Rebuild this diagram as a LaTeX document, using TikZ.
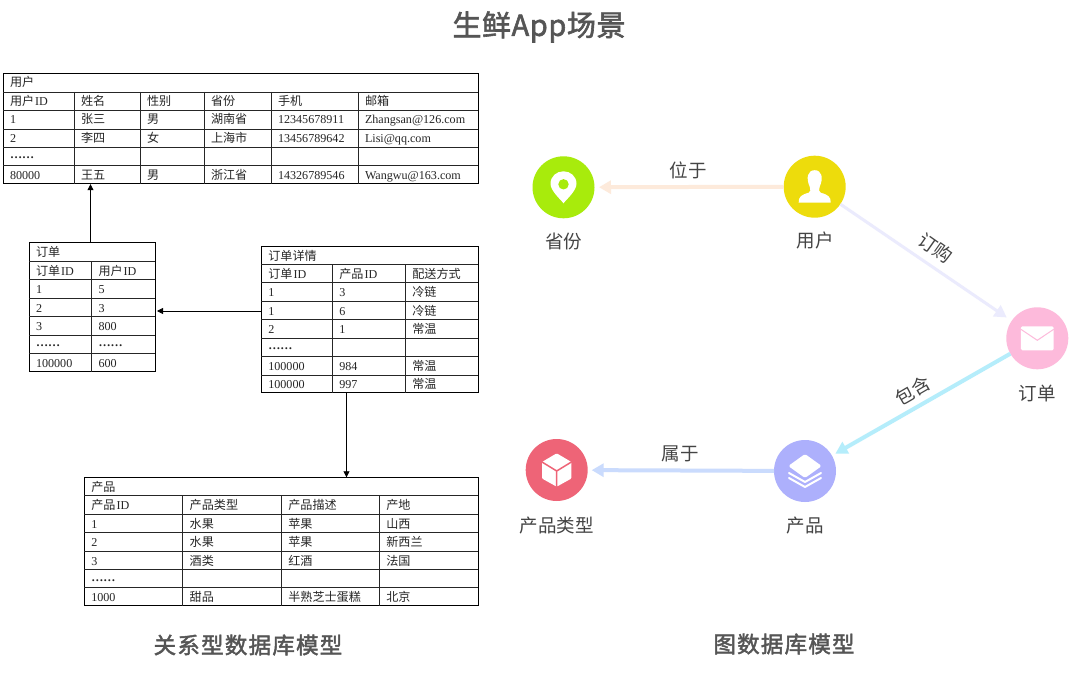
\documentclass[tikz,border=0pt]{standalone}
\usepackage{fontspec}
\setmainfont{Liberation Serif}
\newfontfamily\cjkfont{Noto Sans CJK SC}
\newfontfamily\cjkspaced[LetterSpace=5.5,FakeBold=2]{Noto Sans CJK SC}
\newfontfamily\cjktitle[LetterSpace=2,FakeBold=2]{Noto Sans CJK SC}
\newcommand\zh[1]{{\cjkfont #1}}
\newcommand\idtxt{\hspace{1pt}ID}
\usetikzlibrary{arrows.meta,fit}
\definecolor{ttl}{HTML}{555555}
\definecolor{lab}{HTML}{444444}
\definecolor{cgreen}{HTML}{A8EB0C}
\definecolor{cyellow}{HTML}{EDDC0C}
\definecolor{cpink}{HTML}{FDBADB}
\definecolor{cviolet}{HTML}{ADB0FC}
\definecolor{cred}{HTML}{EE6477}
\definecolor{lpeach}{HTML}{FDEADB}
\definecolor{llav}{HTML}{EBEBFD}
\definecolor{lcyan}{HTML}{B5EDFB}
\definecolor{lblue}{HTML}{CADBFD}
\newcount\cellno
\tikzset{
  tblframe/.style={draw=black,line width=0.9pt,inner sep=0pt,outer sep=0pt},
  tblline/.style={draw=black!85,line width=0.9pt},
  cell/.style={anchor=base west,inner sep=0pt,font=\fontsize{12.1}{13}\selectfont,text=black!85},
  fk/.style={draw=black,line width=0.8pt,-{Triangle[length=6pt,width=6pt]}},
  gnode/.style={circle,minimum size=62pt,inner sep=0pt,outer sep=0pt},
  glabel/.style={inner sep=0pt,font=\fontsize{18.5}{20}\selectfont\cjkfont,text=lab},
  elabel/.style={inner sep=0pt,font=\fontsize{18.5}{20}\selectfont\cjkfont,text=lab},
  gedge/.style={line width=#1,-{Triangle[length=12pt,width=13pt]}},
  heading/.style={inner sep=0pt,text=ttl}
}
% name, left, right, top, bottom, inner column xs, inner row ys, second row top
\newcommand\tablegrid[8]{%
  \node[tblframe,fit={(#2,#4)(#3,#5)}] (#1) {};
  \foreach \yy in {#7} {\draw[tblline] (#2,\yy) -- (#3,\yy);}
  \foreach \xx in {#6} {\draw[tblline] (\xx,#8) -- (\xx,#5);}
}
\newcommand\rowcells[2]{%
  \foreach \xx/\tt in {#2} {%
    \global\advance\cellno by 1
    \node[cell] (cell\the\cellno) at (\xx+6.8,#1) {\tt};
  }%
}
\begin{document}
\begin{tikzpicture}[x=1pt,y=-1pt]
\useasboundingbox (0,0) rectangle (1080,682);
\fill[white] (0,0) rectangle (1080,682);

\node[heading,font=\fontsize{29}{31}\selectfont\cjktitle] (title) at (539,27) {生鲜App场景};
\node[heading,font=\fontsize{22.5}{24}\selectfont\cjkspaced] (relcap) at (248,645) {关系型数据库模型};
\node[heading,font=\fontsize{22.5}{24}\selectfont\cjkspaced] (graphcap) at (784,644) {图数据库模型};

% ---- user table
\tablegrid{user}{3}{478}{73}{183.7}{74,140,204,271,358}{92,110,129,147.7,165.3}{92}
\rowcells{87}{3/\zh{用户}}
\rowcells{105.3}{3/\zh{用户}\idtxt,74/\zh{姓名},140/\zh{性别},204/\zh{省份},271/\zh{手机},358/\zh{邮箱}}
\rowcells{124}{3/1,74/\zh{张三},140/\zh{男},204/\zh{湖南省},271/12345678911,358/Zhangsan@126.com}
\rowcells{142.8}{3/2,74/\zh{李四},140/\zh{女},204/\zh{上海市},271/13456789642,358/Lisi@qq.com}
\rowcells{158.3}{3/\textbf{……}}
\rowcells{179.2}{3/80000,74/\zh{王五},140/\zh{男},204/\zh{浙江省},271/14326789546,358/Wangwu@163.com}

% ---- order table
\tablegrid{order}{29}{155}{242.7}{371.7}{91.5}{261.3,279.5,298.5,316.7,335.3,353.3}{261.3}
\rowcells{257}{29/\zh{订单}}
\rowcells{275}{29/\zh{订单}\idtxt,91.5/\zh{用户}\idtxt}
\rowcells{293.7}{29/1,91.5/5}
\rowcells{312.2}{29/2,91.5/3}
\rowcells{330.7}{29/3,91.5/800}
\rowcells{346.3}{29/\textbf{……},91.5/\textbf{……}}
\rowcells{367.2}{29/100000,91.5/600}

% ---- order detail table
\tablegrid{detail}{261.3}{478}{246}{392.7}{332.3,405.3}{264.3,282.3,301.3,319.7,338,356.3,375}{264.3}
\rowcells{260}{261.3/\zh{订单详情}}
\rowcells{278}{261.3/\zh{订单}\idtxt,332.3/\zh{产品}\idtxt,405.3/\zh{配送方式}}
\rowcells{296.7}{261.3/1,332.3/3,405.3/\zh{冷链}}
\rowcells{315.2}{261.3/1,332.3/6,405.3/\zh{冷链}}
\rowcells{333.7}{261.3/2,332.3/1,405.3/\zh{常温}}
\rowcells{349.2}{261.3/\textbf{……}}
\rowcells{370.2}{261.3/100000,332.3/984,405.3/\zh{常温}}
\rowcells{388.7}{261.3/100000,332.3/997,405.3/\zh{常温}}

% ---- product table
\tablegrid{product}{84.3}{478.3}{477.3}{605.7}{182.7,281.3,379.3}{495.3,514,532.7,551,569.3,587.3}{495.3}
\rowcells{491}{84.3/\zh{产品}}
\rowcells{509}{84.3/\zh{产品}\idtxt,182.7/\zh{产品类型},281.3/\zh{产品描述},379.3/\zh{产地}}
\rowcells{528.2}{84.3/1,182.7/\zh{水果},281.3/\zh{苹果},379.3/\zh{山西}}
\rowcells{546.7}{84.3/2,182.7/\zh{水果},281.3/\zh{苹果},379.3/\zh{新西兰}}
\rowcells{565.2}{84.3/3,182.7/\zh{酒类},281.3/\zh{红酒},379.3/\zh{法国}}
\rowcells{581}{84.3/\textbf{……}}
\rowcells{601.2}{84.3/1000,182.7/\zh{甜品},281.3/\zh{半熟芝士蛋糕},379.3/\zh{北京}}

% ---- foreign key connectors
\coordinate (fkA) at (90.5,220);
\coordinate (fkB) at (200,311);
\coordinate (fkC) at (346.5,430);
\draw[fk,shorten >=0.5pt] (fkA |- order.north) -- (fkA |- user.south);
\draw[fk,shorten >=2pt] (detail.west |- fkB) -- (order.east |- fkB);
\draw[fk] (fkC |- detail.south) -- (fkC |- product.north);

% ---- graph nodes
\node[gnode,fill=cgreen] (gprov) at (563.5,187.3) {};
\node[gnode,fill=cyellow] (guser) at (814.7,186.7) {};
\node[gnode,fill=cpink] (gorder) at (1037.3,338.3) {};
\node[gnode,fill=cviolet] (gprod) at (805,471) {};
\node[gnode,fill=cred] (gtype) at (556.7,470) {};

% ---- graph edges
\draw[gedge=4pt,lpeach,shorten >=4.5pt] (guser) -- (gprov);
\draw[gedge=3pt,llav,shorten >=6pt] (guser) -- (gorder);
\draw[gedge=4pt,lcyan,shorten >=4pt] (gorder) -- (gprod);
\draw[gedge=4pt,lblue,shorten >=4pt] (gprod) -- (gtype);

% ---- icons
\begin{scope}[shift={(gprov)}]
  \fill[white] (0,16) .. controls (-3,12) and (-13,3.5) .. (-13,-3.5)
     .. controls (-13,-11) and (-7,-16) .. (0,-16)
     .. controls (7,-16) and (13,-11) .. (13,-3.5)
     .. controls (13,3.5) and (3,12) .. (0,16) -- cycle;
  \fill[cgreen] (0,-3) circle[radius=5.2pt];
\end{scope}
\begin{scope}[shift={(guser)}]
  \fill[white] (-16,16) .. controls (-16.5,10) and (-13,8) .. (-6,6)
     .. controls (-4,5) and (-4,3) .. (-5,0)
     .. controls (-9,-9) and (-7,-16.5) .. (0,-16.5)
     .. controls (7,-16.5) and (9,-9) .. (5,0)
     .. controls (4,3) and (4,5) .. (6,6)
     .. controls (13,8) and (16.5,10) .. (16,16) -- cycle;
\end{scope}
\begin{scope}[shift={(gorder)}]
  \fill[white,rounded corners=1.5pt] (-16.4,-12) rectangle (16.4,12);
  \draw[cpink,line width=1pt] (-16.4,-9) -- (0,2) -- (16.4,-9);
\end{scope}
\begin{scope}[shift={(gprod)}]
  \fill[white,rounded corners=1.5pt] (0,-17) -- (16.7,-5) -- (0,7) -- (-16.7,-5) -- cycle;
  \draw[white,line width=2pt,line join=round,line cap=round] (-16,2) -- (0,11) -- (16,2);
  \draw[white,line width=2pt,line join=round,line cap=round] (-16,7) -- (0,16) -- (16,7);
\end{scope}
\begin{scope}[shift={(gtype)}]
  \fill[white,rounded corners=1pt] (0,-16.7) -- (14.7,-8) -- (14.7,8.5) -- (0,16.7) -- (-14.7,8.5) -- (-14.7,-8) -- cycle;
  \draw[cred,line width=1.5pt] (-14.7,-8) -- (0,1) -- (14.7,-8) (0,1) -- (0,16.7);
\end{scope}

% ---- graph labels
\node[glabel] (lprov) at (563.5,241.5) {省份};
\node[glabel] (luser) at (815,240.5) {用户};
\node[glabel] (lorder) at (1037,393) {订单};
\node[glabel] (lprod) at (805,525.5) {产品};
\node[glabel] (ltype) at (556.7,525.5) {产品类型};
\node[elabel] (e1) at (688,170) {位于};
\node[elabel,rotate=-35] (e2) at (935.5,248) {订购};
\node[elabel,rotate=30] (e3) at (912.5,390.7) {包含};
\node[elabel] (e4) at (680,453.5) {属于};
\end{tikzpicture}
\end{document}
